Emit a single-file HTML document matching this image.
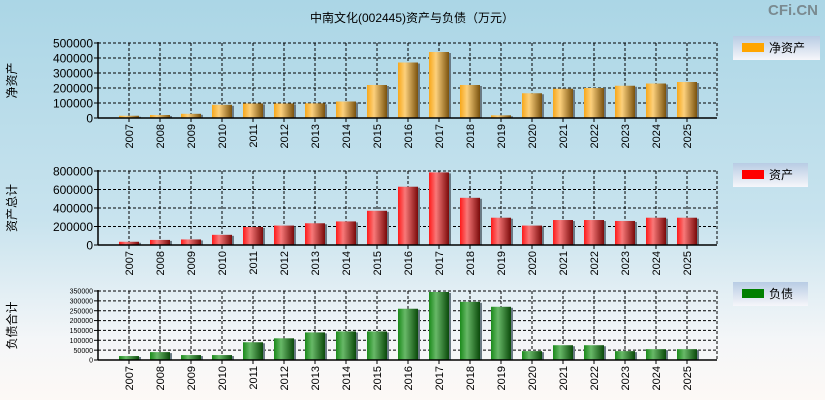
<!DOCTYPE html>
<html><head><meta charset="utf-8">
<style>
html,body{margin:0;padding:0;}
body{width:825px;height:400px;overflow:hidden;background:linear-gradient(#abd6e6 0%,#c8e3ee 55%,#f4f6f8 85%,#fdf9f6 100%);font-family:"Liberation Sans","Noto Sans CJK SC",sans-serif;}
svg{position:absolute;left:0;top:0;}
</style></head>
<body>
<svg id="c" width="825" height="400" xmlns="http://www.w3.org/2000/svg">
<defs>
<linearGradient id="gO" x1="0" x2="1" y1="0" y2="0"><stop offset="0" stop-color="#f8a81a"/><stop offset="0.35" stop-color="#fcd07c"/><stop offset="1" stop-color="#7a520e"/></linearGradient>
<linearGradient id="gR" x1="0" x2="1" y1="0" y2="0"><stop offset="0" stop-color="#ff1a1a"/><stop offset="0.35" stop-color="#f87878"/><stop offset="1" stop-color="#7a0a0a"/></linearGradient>
<linearGradient id="gG" x1="0" x2="1" y1="0" y2="0"><stop offset="0" stop-color="#1a8a1a"/><stop offset="0.35" stop-color="#68b868"/><stop offset="1" stop-color="#0a4a0a"/></linearGradient>
<linearGradient id="gL" x1="0" x2="0" y1="0" y2="1"><stop offset="0" stop-color="#b8cce4"/><stop offset="1" stop-color="#f6f6fa"/></linearGradient>
</defs>
<text x="412" y="22" font-size="12" text-anchor="middle" fill="#000">中南文化(002445)资产与负债（万元）</text>
<text x="818" y="15" font-size="15" font-weight="bold" text-anchor="end" fill="#7a8a90">CFi.CN</text>
</svg>
<script>
const years=["2007","2008","2009","2010","2011","2012","2013","2014","2015","2016","2017","2018","2019","2020","2021","2022","2023","2024","2025"];
const netAssets=[15000,20000,28000,88000,97000,97000,98000,110000,220000,370000,440000,220000,18000,165000,195000,200000,215000,230000,240000];
const totalAssets=[35000,55000,60000,110000,195000,210000,235000,255000,370000,630000,785000,510000,295000,210000,270000,270000,260000,295000,295000];
const liabilities=[20000,40000,25000,25000,90000,110000,140000,145000,145000,260000,345000,295000,270000,45000,75000,75000,45000,55000,55000];
const ticks1=[0,100000,200000,300000,400000,500000];
const ticks2=[0,200000,400000,600000,800000];
const ticks3=[0,50000,100000,150000,200000,250000,300000,350000];

const NS="http://www.w3.org/2000/svg";
const svg=document.getElementById('c');
function mk(tag,attrs,parent){const e=document.createElementNS(NS,tag);for(const k in attrs)e.setAttribute(k,attrs[k]);(parent||svg).appendChild(e);return e;}

function panel(cfg){
  const x0=98,x1=717,step=31;
  const g=mk('g',{});
  
  
  const max=cfg.ticks[cfg.ticks.length-1];
  const yS=v=>cfg.yb-(v/max)*(cfg.yb-cfg.yt);
  const xS=i=>x0+step*(i+1);
  // grid horizontals
  cfg.ticks.forEach(t=>{
    const y=yS(t);
    if(t>0){const l=mk('line',{x1:x0,x2:x1,y1:y,y2:y,stroke:'#000','stroke-dasharray':'3,2','stroke-width':1},g);
      
      }
    mk('line',{x1:x0-4,x2:x0,y1:y,y2:y,stroke:'#000'},g);
    const tx=mk('text',{x:x0-5,y:y+cfg.fs*0.38,'font-size':cfg.fs,'text-anchor':'end',fill:'#000'},g);
    tx.textContent=t;
    
    
  });
  years.forEach((yr,i)=>{
    const x=xS(i);
    mk('line',{x1:x,x2:x,y1:cfg.yt,y2:cfg.yb,stroke:'#000','stroke-dasharray':'3,2'},g);
    mk('line',{x1:x,x2:x,y1:cfg.yb,y2:cfg.yb+4,stroke:'#000'},g);
    const tx=mk('text',{x:0,y:0,'font-size':11,'text-anchor':'end',fill:'#000',transform:`translate(${x+4},${cfg.yb+6}) rotate(-90)`},g);
    tx.textContent=yr;
    
    
  });
  mk('line',{x1:x1,x2:x1,y1:cfg.yt,y2:cfg.yb,stroke:'#000','stroke-dasharray':'3,2'},g);
  mk('line',{x1:x0,x2:x1,y1:cfg.yt,y2:cfg.yt,stroke:'#000','stroke-dasharray':'3,2'},g);
  // bars
  cfg.data.forEach((v,i)=>{
    const x=xS(i),y=yS(v),h=cfg.yb-y;
    mk('rect',{x:x-9,y:y+1,width:21,height:Math.max(0,h-1),fill:'#6a7a84'},g);
    const r=mk('rect',{x:x-10,y:y,width:20,height:h,fill:cfg.grad},g);
    
    
  });
  // axes
  mk('line',{x1:x0,x2:x0,y1:cfg.yt-1,y2:cfg.yb,stroke:'#000','stroke-width':1.5},g);
  mk('line',{x1:x0,x2:x1,y1:cfg.yb,y2:cfg.yb,stroke:'#000','stroke-width':1.5},g);
  // y title
  const yt=mk('text',{x:0,y:0,'font-size':12,'text-anchor':'middle',fill:'#000',transform:`translate(${cfg.tx},${(cfg.yt+cfg.yb)/2}) rotate(-90)`},g);
  yt.textContent=cfg.title;
  
  
  // legend
  const lg=mk('g',{},g);
  
  
  mk('rect',{x:733,y:cfg.ly,width:cfg.lw,height:24,fill:'url(#gL)'},lg);
  mk('rect',{x:742,y:cfg.ly+7,width:22,height:9,fill:cfg.lc},lg);
  const lt=mk('text',{x:769,y:cfg.ly+16,'font-size':12,fill:'#000'},lg);
  lt.textContent=cfg.title.length>3?cfg.legend:cfg.legend;
}
panel({name:'net-assets',data:netAssets,ticks:ticks1,yt:43,yb:118,fs:12,grad:'url(#gO)',title:'净资产',legend:'净资产',tx:16,ly:36,lw:87,lc:'#ffa500'});
panel({name:'total-assets',data:totalAssets,ticks:ticks2,yt:171,yb:245,fs:12,grad:'url(#gR)',title:'资产总计',legend:'资产',tx:16,ly:163,lw:75,lc:'#ff0000'});
panel({name:'liabilities',data:liabilities,ticks:ticks3,yt:291,yb:360,fs:7,grad:'url(#gG)',title:'负债合计',legend:'负债',tx:16,ly:282,lw:75,lc:'#008000'});
</script>
</body></html>
